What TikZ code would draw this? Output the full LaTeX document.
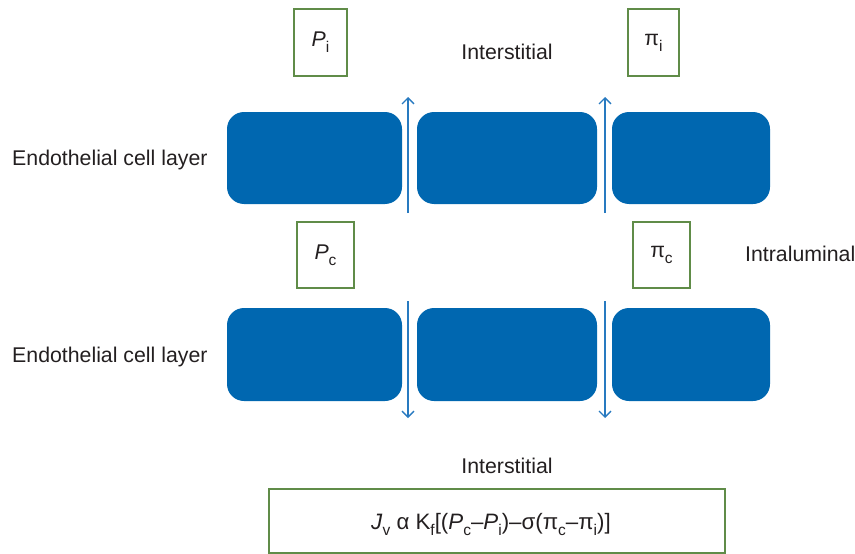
\documentclass[tikz,border=0pt]{standalone}
\usepackage{fontspec}
\setmainfont{Liberation Sans}
\usetikzlibrary{arrows.meta}
\definecolor{cellblue}{RGB}{0,103,176}
\definecolor{arrowblue}{RGB}{40,122,192}
\definecolor{boxgreen}{RGB}{96,140,72}
\definecolor{txt}{RGB}{35,31,32}
\newcommand{\sbs}[1]{\raisebox{-0.28em}{\fontsize{15.5}{15.5}\selectfont #1}}
\tikzset{
  lbl/.style={font=\fontsize{21.3}{25}\selectfont, text=txt, inner sep=0pt},
  varbox/.style={draw=boxgreen, line width=1.1pt, font=\fontsize{21.3}{25}\selectfont, text=txt, inner sep=0pt},
  cell/.style={fill=cellblue, rounded corners=17pt},
  flow/.style={draw=arrowblue, line width=1.3pt, -{Straight Barb[length=6pt,width=12pt,line width=1.3pt]}}
}
\begin{document}
\begin{tikzpicture}[x=1pt,y=-1pt]
\useasboundingbox (0,0) rectangle (855,554);
% labels
\node[lbl, anchor=base] (intTop) at (507,59) {Interstitial};
\node[lbl, anchor=base] (intBot) at (507,473) {Interstitial};
\node[lbl, anchor=base west] (intra) at (745,261) {Intraluminal};
\node[lbl, anchor=base west] (endo1) at (12,165) {Endothelial cell layer};
\node[lbl, anchor=base west] (endo2) at (12,362) {Endothelial cell layer};
% variable boxes
\node[varbox, minimum width=53pt, minimum height=67pt] (Pi) at (320.5,42.5) {\textit{P}\sbs{i}};
\node[varbox, minimum width=51pt, minimum height=67pt] (pii) at (653.5,42.5) {π\sbs{i}};
\node[varbox, minimum width=57pt, minimum height=66pt] (Pc) at (325.5,255) {\textit{P}\sbs{c}};
\node[varbox, minimum width=57pt, minimum height=66pt] (pic) at (661.5,255) {π\sbs{c}};
% cells
\path[cell] (227,112) rectangle (402,204);
\path[cell] (417,112) rectangle (597,204);
\path[cell] (612,112) rectangle (770,204);
\path[cell] (227,308) rectangle (402,401);
\path[cell] (417,308) rectangle (597,401);
\path[cell] (612,308) rectangle (770,401);
% flow arrows
\coordinate (a1s) at (408,213); \coordinate (a1e) at (408,97);
\coordinate (a2s) at (605,213); \coordinate (a2e) at (605,97);
\coordinate (b1s) at (408,301); \coordinate (b1e) at (408,418);
\coordinate (b2s) at (605,301); \coordinate (b2e) at (605,418);
\draw[flow] (a1s) -- (a1e);
\draw[flow] (a2s) -- (a2e);
\draw[flow] (b1s) -- (b1e);
\draw[flow] (b2s) -- (b2e);
% formula
\draw[boxgreen, line width=1.1pt] (269,489) rectangle (725,553);
\node[lbl, anchor=base, font=\fontsize{22.3}{26}\selectfont] (formula) at (491,529) {\textit{J}\sbs{v} α K\sbs{f}[(\textit{P}\sbs{c}–\textit{P}\sbs{i})–σ(π\sbs{c}–π\sbs{i})]};
\end{tikzpicture}
\end{document}
